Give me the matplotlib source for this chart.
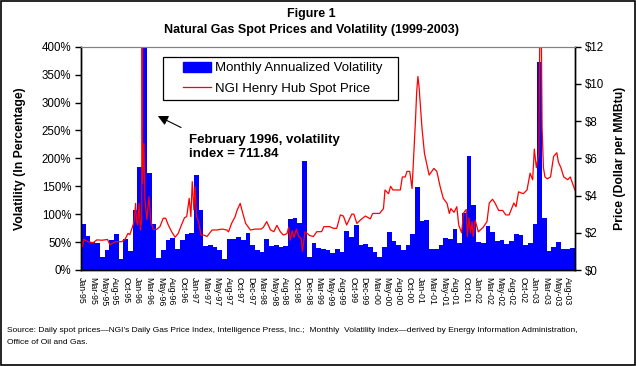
import matplotlib
matplotlib.use('Agg')
import matplotlib.pyplot as plt
from matplotlib.patches import Rectangle
from matplotlib.lines import Line2D
import pandas as pd
import numpy as np

plt.rcParams['font.family'] = ['Liberation Sans', 'DejaVu Sans']

# monthly annualized volatility, Jan-95 .. Sep-03 (percent)
volatility = [
    83, 61, 51, 49, 23, 36, 54, 64, 20, 56,
    34, 107, 185, 711.84, 174, 83, 21, 36, 54, 58,
    37, 54, 64, 66, 170, 107, 43, 44, 41, 36,
    20, 56, 56, 59, 54, 66, 45, 36, 32, 55,
    43, 45, 42, 43, 91, 93, 85, 195, 23, 48,
    39, 37, 35, 30, 38, 33, 70, 60, 81, 44,
    47, 42, 33, 24, 42, 68, 52, 45, 36, 45,
    65, 148, 87, 90, 38, 38, 45, 57, 56, 73,
    49, 102, 204, 116, 51, 49, 79, 68, 52, 54,
    47, 52, 65, 63, 45, 49, 83, 372, 93, 34,
    42, 51, 38, 38, 39,
]

# NGI Henry Hub spot price ($/MMBtu)
price_dates = [
    '1995-01-01', '1995-01-10', '1995-01-19', '1995-02-15', '1995-03-20', '1995-04-12',
    '1995-05-15', '1995-06-20', '1995-07-06', '1995-07-15', '1995-08-10', '1995-09-20',
    '1995-10-12', '1995-11-01', '1995-11-12', '1995-11-24', '1995-12-10', '1995-12-20',
    '1995-12-26', '1996-01-03', '1996-01-11', '1996-01-21', '1996-01-29', '1996-02-01',
    '1996-02-04', '1996-02-12', '1996-02-18', '1996-03-01', '1996-03-15', '1996-03-28',
    '1996-04-12', '1996-05-03', '1996-05-25', '1996-06-15', '1996-07-01', '1996-07-18',
    '1996-08-09', '1996-09-01', '1996-09-21', '1996-10-12', '1996-11-01', '1996-11-15',
    '1996-12-01', '1996-12-12', '1996-12-21', '1997-01-01', '1997-01-09', '1997-01-18',
    '1997-02-01', '1997-02-15', '1997-03-03', '1997-03-25', '1997-04-27', '1997-05-27',
    '1997-07-01', '1997-08-01', '1997-08-12', '1997-09-01', '1997-09-24', '1997-10-06',
    '1997-10-27', '1997-11-10', '1997-12-01', '1998-01-01', '1998-02-01', '1998-03-10',
    '1998-03-25', '1998-04-15', '1998-05-10', '1998-06-01', '1998-06-20', '1998-07-12',
    '1998-08-01', '1998-08-25', '1998-09-05', '1998-09-15', '1998-09-28', '1998-10-10',
    '1998-10-25', '1998-11-10', '1998-11-25', '1998-12-03', '1998-12-20', '1999-01-20',
    '1999-02-12', '1999-03-05', '1999-04-05', '1999-04-20', '1999-05-28', '1999-06-20',
    '1999-07-12', '1999-08-05', '1999-08-25', '1999-09-15', '1999-10-18', '1999-11-01',
    '1999-11-20', '1999-12-15', '2000-01-15', '2000-02-15', '2000-03-01', '2000-04-15',
    '2000-05-10', '2000-05-20', '2000-06-12', '2000-06-25', '2000-07-10', '2000-07-25',
    '2000-08-28', '2000-09-10', '2000-09-28', '2000-10-10', '2000-10-28', '2000-11-12',
    '2000-11-25', '2000-12-04', '2000-12-12', '2000-12-20', '2000-12-28', '2001-01-15',
    '2001-02-01', '2001-03-01', '2001-04-01', '2001-04-20', '2001-05-12', '2001-06-01',
    '2001-06-25', '2001-07-10', '2001-07-20', '2001-08-10', '2001-08-28', '2001-09-10',
    '2001-09-28', '2001-10-10', '2001-10-28', '2001-11-05', '2001-11-15', '2001-11-25',
    '2001-12-05', '2001-12-12', '2001-12-25', '2002-01-15', '2002-02-15', '2002-03-10',
    '2002-03-25', '2002-04-15', '2002-05-01', '2002-05-25', '2002-06-20', '2002-07-10',
    '2002-08-01', '2002-09-01', '2002-09-15', '2002-10-01', '2002-11-01', '2002-11-25',
    '2002-12-15', '2003-01-01', '2003-01-12', '2003-01-25', '2003-02-10', '2003-02-20',
    '2003-03-01', '2003-03-10', '2003-03-20', '2003-04-05', '2003-04-25', '2003-05-15',
    '2003-06-05', '2003-06-15', '2003-07-01', '2003-07-20', '2003-08-15', '2003-09-01',
    '2003-09-30',
]
price_values = [
    1.70, 1.25, 1.65, 1.52, 1.47, 1.62,
    1.60, 1.64, 1.35, 1.40, 1.52, 1.52,
    1.65, 1.97, 1.90, 2.18, 2.60, 3.58,
    2.60, 2.42, 3.58, 2.15, 2.80, 12.5,
    4.66, 6.80, 3.76, 2.70, 3.94, 2.60,
    2.18, 2.18, 2.33, 2.78, 2.78, 2.42,
    2.06, 1.76, 1.97, 2.42, 2.81, 2.87,
    3.85, 2.87, 4.75, 3.22, 4.48, 2.87,
    2.60, 1.88, 1.88, 1.80, 2.15, 2.15,
    2.20, 2.15, 2.05, 2.50, 2.87, 3.20,
    3.58, 3.13, 2.50, 2.15, 2.20, 2.20,
    2.30, 2.60, 2.15, 2.06, 2.40, 2.06,
    1.88, 1.95, 2.30, 1.60, 2.10, 1.75,
    2.20, 1.80, 1.70, 1.00, 2.06, 1.85,
    1.80, 2.06, 2.06, 2.33, 2.33, 2.24,
    2.24, 2.96, 2.90, 2.42, 3.00, 3.00,
    2.50, 2.70, 2.90, 2.75, 3.04, 3.04,
    3.30, 4.30, 4.10, 4.50, 4.30, 4.30,
    4.30, 5.00, 5.00, 5.30, 5.30, 4.38,
    6.50, 8.06, 9.60, 10.40, 9.80, 7.70,
    6.27, 5.10, 5.46, 5.30, 4.46, 3.85,
    3.58, 3.04, 3.30, 3.10, 3.40, 2.40,
    2.00, 3.05, 3.25, 1.80, 2.80, 2.00,
    2.60, 1.80, 2.68, 2.05, 2.30, 2.60,
    3.60, 3.80, 3.60, 3.20, 3.20, 2.96,
    2.96, 3.60, 3.40, 4.20, 4.10, 4.30,
    5.20, 4.85, 6.50, 5.50, 6.30, 18.0,
    7.70, 5.50, 5.00, 4.90, 5.00, 6.10,
    6.30, 5.80, 5.50, 5.00, 4.85, 5.00,
    4.30,
]

tick_labels = [
    'Jan-95', 'Mar-95', 'May-95', 'Aug-95', 'Oct-95', 'Jan-96', 'Mar-96', 'May-96',
    'Aug-96', 'Oct-96', 'Jan-97', 'Mar-97', 'May-97', 'Aug-97', 'Oct-97', 'Dec-97',
    'Mar-98', 'May-98', 'Aug-98', 'Oct-98', 'Dec-98', 'Mar-99', 'May-99', 'Aug-99',
    'Oct-99', 'Dec-99', 'Mar-00', 'May-00', 'Aug-00', 'Oct-00', 'Jan-01', 'Mar-01',
    'May-01', 'Aug-01', 'Oct-01', 'Jan-02', 'Mar-02', 'May-02', 'Aug-02', 'Oct-02',
    'Jan-03', 'Mar-03', 'May-03', 'Aug-03',
]

# convert dates to months since Jan 1995
d = pd.to_datetime(price_dates)
price_x = (d.year - 1995) * 12 + (d.month - 1) + (d.day - 1) / d.days_in_month
months = np.arange(len(volatility))

W, H = 636, 366
fig = plt.figure(figsize=(W / 100, H / 100), dpi=100)
ax = fig.add_axes([81/W, 1-270/H, 494/W, 223.3/H])
ax2 = ax.twinx()

ax.bar(months, volatility, width=1.0, align='edge', color='#0000ff', linewidth=0)
ax2.plot(price_x, price_values, color='#ff0000', linewidth=0.9)

ax.set_xlim(0, len(volatility))
ax.set_ylim(0, 400)
ax2.set_ylim(0, 12)

ax.set_yticks(range(0, 401, 50))
ax.set_yticklabels([f'{v}%' for v in range(0, 401, 50)], fontsize=8.3)
ax2.set_yticks(range(0, 13, 2))
ax2.set_yticklabels([f'${v}' for v in range(0, 13, 2)], fontsize=8.3)

ax.set_xticks(np.linspace(0, 103.5, len(tick_labels)))
ax.set_xticklabels(tick_labels, rotation=270, fontsize=6.3, va='top', ha='center')
ax.tick_params(axis='x', length=0, pad=5)
ax.tick_params(axis='y', length=4, width=1, direction='out', pad=3)
ax2.tick_params(axis='y', length=4, width=1, direction='out', pad=3)

for a in (ax, ax2):
    a.spines['top'].set_color('#808080')
    a.spines['left'].set_linewidth(1)
    a.spines['right'].set_linewidth(1)
    a.spines['bottom'].set_linewidth(1)

ax.set_ylabel('Volatility (In Percentage)', fontsize=8.8, fontweight='bold')
ax.yaxis.set_label_coords((26 - 81) / 494, 0.5)
ax2.set_ylabel('Price (Dollar per MMBtu)', fontsize=8.8, fontweight='bold', rotation=90)
ax2.yaxis.set_label_coords((614 - 81) / 494, 0.5)

# legend with a plain box around it
fig.patches.append(Rectangle((163/W, 1-100/H), 235/W, 43/H, transform=fig.transFigure,
                             facecolor='white', edgecolor='black', linewidth=0.9, zorder=5))
handles = [Rectangle((0, 0), 1, 1, color='#0000ff'),
           Line2D([0], [0], color='#ff0000', linewidth=0.9)]
leg = fig.legend(handles, ['Monthly Annualized Volatility', 'NGI Henry Hub Spot Price'],
                 loc='upper left', bbox_to_anchor=(183/W, 1-62/H),
                 bbox_transform=fig.transFigure, fontsize=9.5, frameon=False,
                 borderpad=0, borderaxespad=0, handlelength=2.1, handleheight=0.75,
                 handletextpad=0.3, labelspacing=0.62)
leg.set_zorder(6)

ax.annotate('', xy=(15.8, 278), xytext=(21.8, 253),
            arrowprops=dict(arrowstyle='-|>', color='black', lw=0.8, mutation_scale=15))
ax.text(22.9, 220, 'February 1996, volatility\nindex = 711.84', fontsize=9.5,
        fontweight='bold', ha='left', va='center', linespacing=1.2)

fig.text(311/W, 1-14/H, 'Figure 1', fontsize=9, fontweight='bold', ha='center', va='center')
fig.text(311/W, 1-30/H, 'Natural Gas Spot Prices and Volatility (1999-2003)', fontsize=9,
         fontweight='bold', ha='center', va='center')
fig.text(7/W, 1-330/H,
         'Source: Daily spot prices\u2014NGI\u2019s Daily Gas Price Index, Intelligence Press, Inc.;  '
         'Monthly  Volatility Index\u2014derived by Energy Information Administration,',
         fontsize=6.0, ha='left', va='center')
fig.text(7/W, 1-343/H, 'Office of Oil and Gas.', fontsize=6.0, ha='left', va='center')

fig.patches.append(Rectangle((0.002, 0.003), 0.996, 0.994, transform=fig.transFigure,
                             fill=False, edgecolor='black', linewidth=1.2))

fig.savefig('out.png', dpi=100)
